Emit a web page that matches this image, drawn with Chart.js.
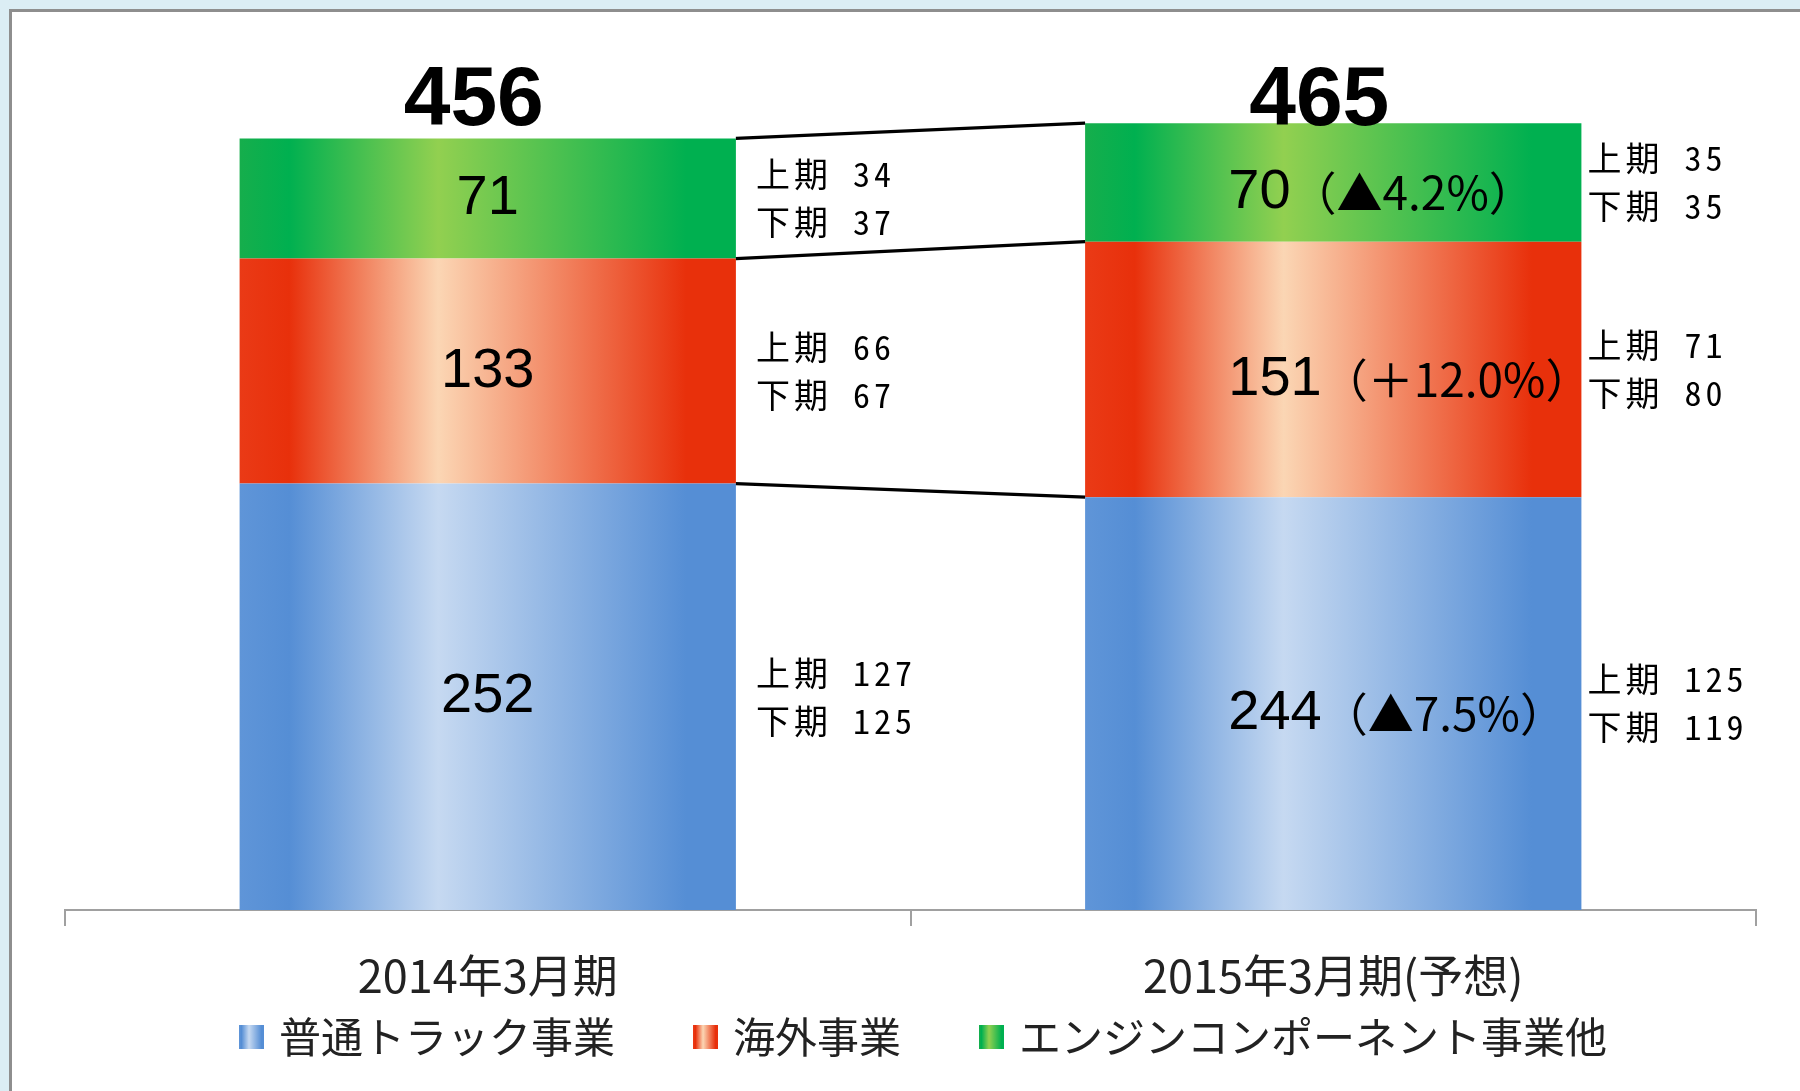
<!DOCTYPE html>
<html>
<head>
<meta charset="utf-8">
<script src="https://cdn.jsdelivr.net/npm/chart.js@4.4.0/dist/chart.umd.min.js"></script>
<style>
html,body{margin:0;padding:0;background:#dbedf4;overflow:hidden;}
#c{position:absolute;left:0;top:0;}
</style>
</head>
<body>
<canvas id="c" width="1800" height="1091"></canvas>
<script>
// ---- data ----
const categories = ['2014年3月期', '2015年3月期(予想)'];
const seriesNames = ['普通トラック事業', '海外事業', 'エンジンコンポーネント事業他'];
const truckValues = [252, 244];
const overseasValues = [133, 151];
const engineValues = [71, 70];
const totals = [456, 465];
const truckFirstHalf = [127, 125];
const truckSecondHalf = [125, 119];
const overseasFirstHalf = [66, 71];
const overseasSecondHalf = [67, 80];
const engineFirstHalf = [34, 35];
const engineSecondHalf = [37, 35];
const truckChange = ['', '（▲7.5%）'];
const overseasChange = ['', '（＋12.0%）'];
const engineChange = ['', '（▲4.2%）'];
const halfPrefix = ['上期', '下期'];

// ---- styles ----
const BAR_PCT = 0.587;
const palette = [
  {edge: '#5f95d8', dark: '#558ed5', light: '#c6d9f1'},
  {edge: '#ea3a16', dark: '#e8300b', light: '#fbd6b4'},
  {edge: '#16ae4c', dark: '#00b050', light: '#92d050'}
];
const CJK = '"Noto Sans CJK JP"';
const LEGEND_SHIFT = -20;

function fillGradient(ctx, left, right, pal) {
  const g = ctx.createLinearGradient(left, 0, right, 0);
  g.addColorStop(0, pal.edge);
  g.addColorStop(0.1, pal.dark);
  g.addColorStop(0.4, pal.light);
  g.addColorStop(0.9, pal.dark);
  g.addColorStop(1, pal.dark);
  return g;
}
function barBg(pal) {
  return (c) => {
    const chart = c.chart;
    const xs = chart.scales && chart.scales.x;
    if (!xs || !chart.chartArea || c.dataIndex === undefined) return pal.dark;
    const center = xs.getPixelForValue(c.dataIndex);
    const w = (xs.width / chart.data.labels.length) * BAR_PCT;
    return fillGradient(chart.ctx, center - w / 2, center + w / 2, pal);
  };
}
function legendImage(pal) {
  const W = 96, H = 24, M = 25;
  const cv = document.createElement('canvas');
  cv.width = W; cv.height = H;
  const g = cv.getContext('2d');
  g.fillStyle = fillGradient(g, W - M, W, pal);
  g.fillRect(W - M, 0, M, H);
  return cv;
}
const legendImgs = palette.map(legendImage);

const annotPlugin = {
  id: 'annot',
  afterLayout(chart) {
    if (chart.legend) {
      chart.legend.left += LEGEND_SHIFT;
      chart.legend.right += LEGEND_SHIFT;
    }
  },
  beforeDraw(chart) {
    const ctx = chart.ctx;
    ctx.save();
    ctx.fillStyle = '#dbedf4';
    ctx.fillRect(0, 0, chart.width, chart.height);
    ctx.fillStyle = '#ffffff';
    ctx.fillRect(10, 10, chart.width, chart.height);
    ctx.strokeStyle = '#8e8e8e';
    ctx.lineWidth = 3;
    ctx.beginPath();
    ctx.moveTo(10.5, chart.height + 5);
    ctx.lineTo(10.5, 10.5);
    ctx.lineTo(chart.width + 5, 10.5);
    ctx.stroke();
    ctx.restore();
  },
  afterDatasetsDraw(chart) {
    const ctx = chart.ctx, xs = chart.scales.x, ys = chart.scales.y;
    const n = categories.length;
    const bw = (xs.width / n) * BAR_PCT;
    const stacks = [truckValues, overseasValues, engineValues];
    const firstH = [truckFirstHalf, overseasFirstHalf, engineFirstHalf];
    const secondH = [truckSecondHalf, overseasSecondHalf, engineSecondHalf];
    const changes = [truckChange, overseasChange, engineChange];
    const bounds = categories.map((_, i) => {
      let cum = 0;
      const arr = [ys.getPixelForValue(0)];
      stacks.forEach(s => { cum += s[i]; arr.push(ys.getPixelForValue(cum)); });
      return arr;
    });
    ctx.save();
    // connectors
    const x1 = xs.getPixelForValue(0) + bw / 2;
    const x2 = xs.getPixelForValue(1) - bw / 2;
    ctx.strokeStyle = '#000';
    ctx.lineWidth = 3.2;
    for (let k = 1; k <= stacks.length; k++) {
      ctx.beginPath();
      ctx.moveTo(x1, bounds[0][k]);
      ctx.lineTo(x2, bounds[1][k]);
      ctx.stroke();
    }
    // segment labels
    ctx.fillStyle = '#000';
    ctx.textBaseline = 'middle';
    for (let i = 0; i < n; i++) {
      const cx = xs.getPixelForValue(i);
      for (let s = 0; s < stacks.length; s++) {
        const mid = (bounds[i][s] + bounds[i][s + 1]) / 2;
        const chg = changes[s][i];
        ctx.font = '56px "Liberation Sans", ' + CJK;
        ctx.letterSpacing = '0px';
        if (!chg) {
          ctx.textAlign = 'center';
          ctx.fillText(String(stacks[s][i]), cx, mid);
        } else {
          ctx.textAlign = 'left';
          const tx = cx - 105, ty = mid + 10;
          ctx.fillText(String(stacks[s][i]), tx, ty);
          const nw = ctx.measureText(String(stacks[s][i])).width;
          ctx.font = '46px ' + CJK;
          ctx.fillText(chg, tx + nw, ty);
        }
        // half-year labels
        const hx = cx + bw / 2 + (i === 0 ? 20 : 6);
        ctx.textAlign = 'left';
        ctx.font = '34px "Noto Sans Mono CJK JP", ' + CJK;
        ctx.letterSpacing = '4px';
        ctx.fillText(halfPrefix[0] + ' ' + firstH[s][i], hx, mid - 24);
        ctx.fillText(halfPrefix[1] + ' ' + secondH[s][i], hx, mid + 24);
        ctx.letterSpacing = '0px';
      }
      // totals
      ctx.textAlign = 'center';
      ctx.textBaseline = 'alphabetic';
      ctx.font = 'bold 84px "Liberation Sans"';
      ctx.fillText(String(totals[i]), cx - 14, chart.chartArea.top + 61);
      ctx.textBaseline = 'middle';
    }
    ctx.restore();
  }
};

const chart = new Chart(document.getElementById('c'), {
  type: 'bar',
  data: {
    labels: categories,
    datasets: [
      {label: seriesNames[0], data: truckValues, backgroundColor: barBg(palette[0])},
      {label: seriesNames[1], data: overseasValues, backgroundColor: barBg(palette[1])},
      {label: seriesNames[2], data: engineValues, backgroundColor: barBg(palette[2])}
    ]
  },
  options: {
    responsive: false,
    animation: false,
    devicePixelRatio: 1,
    layout: {padding: {left: 65, right: 44, top: 64, bottom: 23}},
    datasets: {bar: {barPercentage: BAR_PCT, categoryPercentage: 1, borderWidth: 0}},
    scales: {
      x: {
        stacked: true,
        afterFit: (scale) => { scale.height = 93; },
        grid: {offset: true, drawOnChartArea: false, drawTicks: true, tickLength: 16, color: '#a0a0a0', lineWidth: 2},
        border: {display: true, color: '#a0a0a0', width: 2},
        ticks: {padding: 23, color: '#222', font: {family: 'Noto Sans CJK JP', size: 45}}
      },
      y: {stacked: true, display: false, min: 0, max: 500}
    },
    plugins: {
      tooltip: {enabled: false},
      legend: {
        position: 'bottom',
        labels: {
          usePointStyle: true,
          pointStyleWidth: 84,
          padding: 13,
          color: '#222',
          font: {family: 'Noto Sans CJK JP', size: 42},
          generateLabels: (ch) => ch.data.datasets.map((ds, i) => ({
            text: ds.label,
            fillStyle: palette[i].dark,
            strokeStyle: 'rgba(0,0,0,0)',
            lineWidth: 0,
            pointStyle: legendImgs[i],
            hidden: false,
            datasetIndex: i,
            fontColor: '#222'
          }))
        }
      }
    }
  },
  plugins: [annotPlugin]
});
</script>
</body>
</html>
